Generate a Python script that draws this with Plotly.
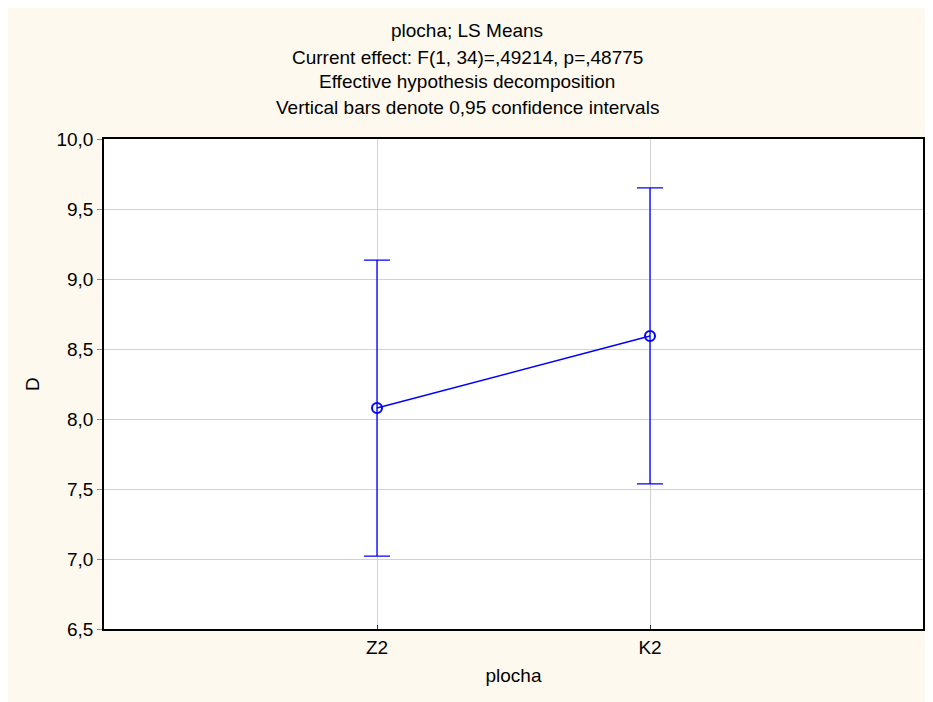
import plotly.graph_objects as go

categories = ["Z2", "K2"]
means = [8.078, 8.593]
ci_upper = [9.135, 9.651]
ci_lower = [7.021, 7.536]
y_ticks = [6.5, 7.0, 7.5, 8.0, 8.5, 9.0, 9.5, 10.0]

title_lines = [
    "plocha; LS Means",
    "Current effect: F(1, 34)=,49214, p=,48775",
    "Effective hypothesis decomposition",
    "Vertical bars denote 0,95 confidence intervals",
]

BLUE = "#0000FF"
CREAM = "#FDF9EF"
FONT = "Liberation Sans, Arial, sans-serif"
FS = 19

# figure is placed by the page at an 8px body margin; it runs to the window edges
W, H = 933, 702
L, T = 96, 131
pw, ph = 819, 490
R, B = W - L - pw, H - T - ph

err_plus = [u - m for u, m in zip(ci_upper, means)]
err_minus = [m - l for m, l in zip(means, ci_lower)]

fig = go.Figure()
fig.add_trace(go.Scatter(
    x=categories, y=means, mode="lines+markers",
    line=dict(color=BLUE, width=1.5),
    marker=dict(symbol="circle-open", size=10, color=BLUE, line=dict(width=2, color=BLUE)),
    error_y=dict(type="data", symmetric=False, array=err_plus, arrayminus=err_minus,
                 color=BLUE, thickness=1.3, width=13),
    showlegend=False,
))


def px_to_paper_x(px):
    return (px - L) / pw


def px_to_paper_y(py):
    return (T + ph - py) / ph


annotations = []
line_y = [22, 49, 74, 100]
for txt, yy in zip(title_lines, line_y):
    annotations.append(dict(text=txt, xref="paper", yref="paper",
                            x=px_to_paper_x(459), y=px_to_paper_y(yy),
                            xanchor="center", yanchor="middle", showarrow=False,
                            font=dict(family=FONT, size=FS, color="#000000")))

fig.update_layout(
    width=W, height=H,
    margin=dict(l=L, r=R, t=T, b=B),
    paper_bgcolor=CREAM, plot_bgcolor="#FFFFFF",
    separators=",.",
    font=dict(family=FONT, size=FS, color="#000000"),
    annotations=annotations,
)
fig.update_xaxes(
    type="category", range=[-1, 2],
    showgrid=True, gridcolor="#D2D2D2", gridwidth=1.2,
    showline=True, linecolor="#000000", linewidth=1.5, mirror=True,
    ticks="inside", ticklen=4, tickcolor="#333333",
    tickfont=dict(family=FONT, size=FS),
    title=dict(text="plocha", font=dict(family=FONT, size=FS), standoff=12),
    zeroline=False,
)
fig.update_yaxes(
    range=[6.5, 10.0], tickvals=y_ticks, tickformat=".1f",
    showgrid=True, gridcolor="#D2D2D2", gridwidth=1.2,
    showline=True, linecolor="#000000", linewidth=1.5, mirror=True,
    ticks="outside", ticklen=5, tickcolor="#888888",
    tickfont=dict(family=FONT, size=FS),
    title=dict(text="D", font=dict(family=FONT, size=FS), standoff=12),
    zeroline=False,
)

fig.write_html("out.html")
